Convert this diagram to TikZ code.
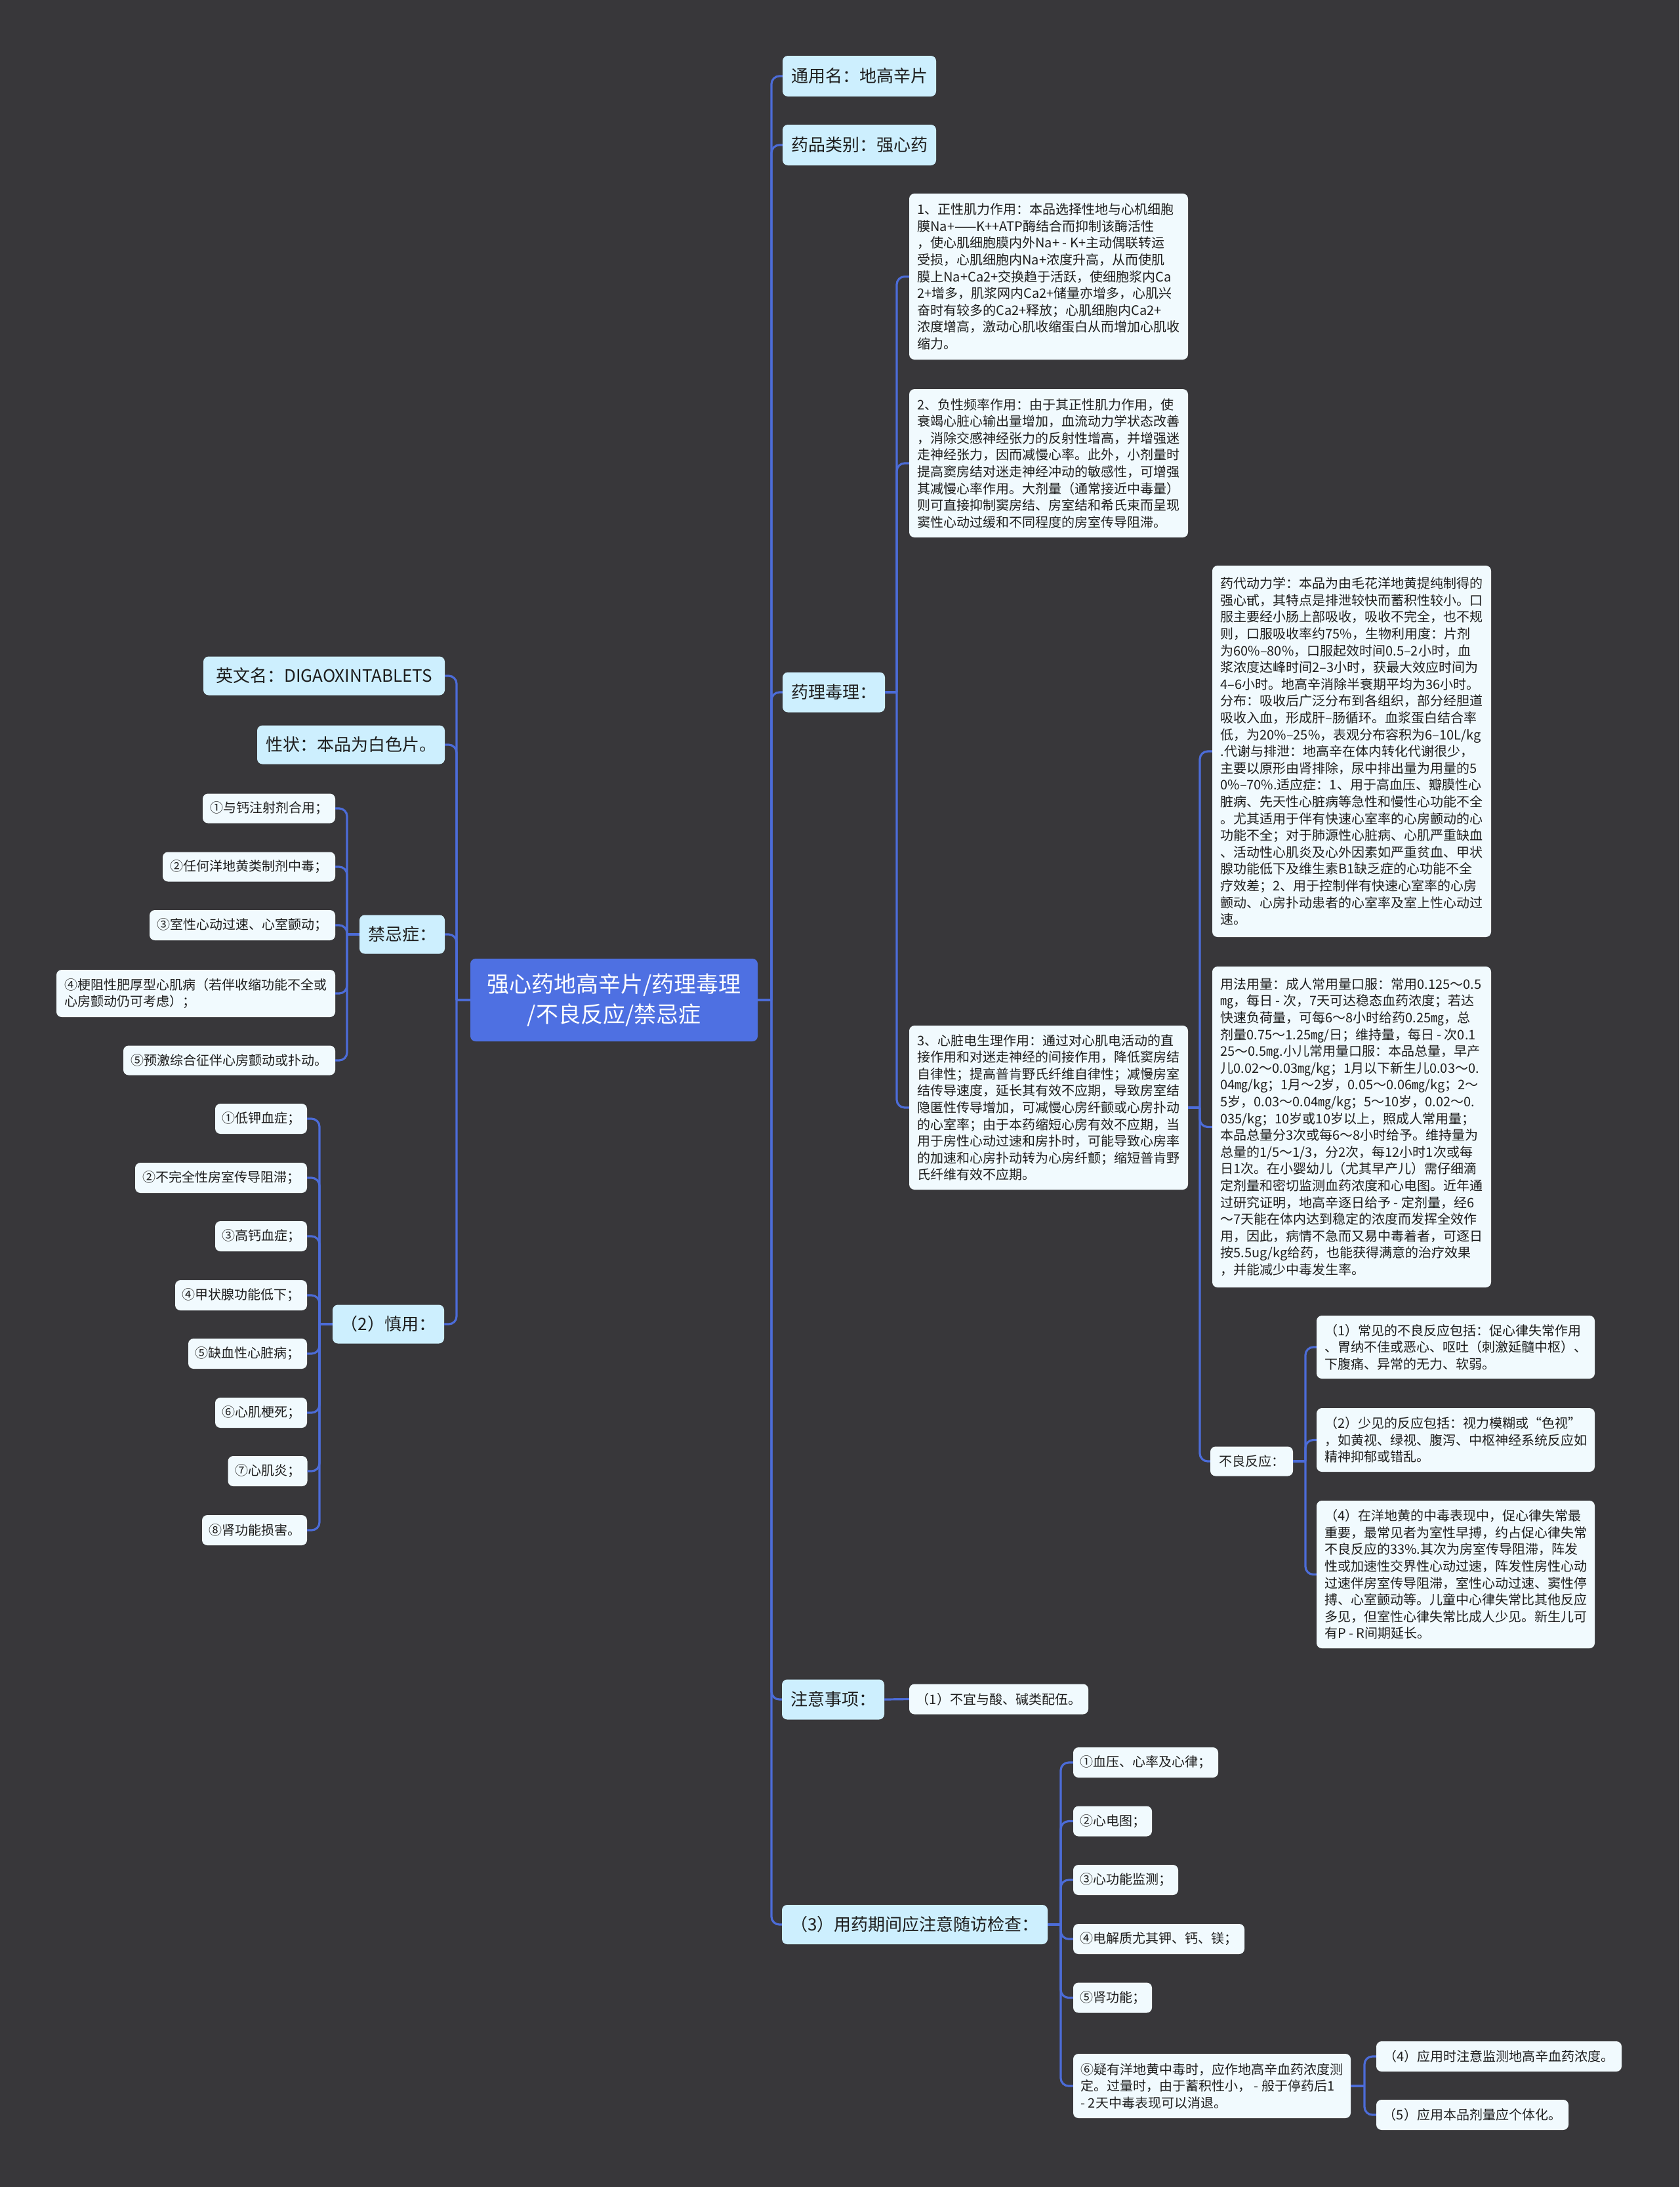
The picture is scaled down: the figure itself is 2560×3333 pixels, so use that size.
\documentclass[tikz,border=0pt]{standalone}
\usepackage{fontspec}
\newfontfamily\cjk{Noto Sans CJK SC}
\definecolor{bgc}{RGB}{56,55,58}
\definecolor{rootc}{RGB}{78,112,226}
\definecolor{lvlc}{RGB}{205,239,254}
\definecolor{leafc}{RGB}{241,250,254}
\definecolor{linec}{RGB}{76,108,216}
\definecolor{txt}{RGB}{30,30,30}
\begin{document}
\begin{tikzpicture}[x=1pt,y=-1pt,
  base/.style={rounded corners=8pt, inner xsep=0pt, inner ysep=0pt, text=txt, align=left,
    font=\cjk\fontsize{20pt}{25.6pt}\selectfont},
  root/.style={base, fill=rootc, text=white, align=center, font=\cjk\fontsize{34pt}{46pt}\selectfont},
  lvl/.style={base, fill=lvlc, align=center, font=\cjk\fontsize{26pt}{32pt}\selectfont},
  leaf/.style={base, fill=leafc},
  conn/.style={draw=linec, line width=3.2pt, rounded corners=12pt}]
\fill[bgc] (0,0) rectangle (2560,3333);

% root
\node[root, minimum width=438pt, minimum height=126pt] (root) at (936,1524) {强心药地高辛片/药理毒理\\/不良反应/禁忌症};

% right level 1
\node[lvl, minimum width=234pt, minimum height=62pt] (tym) at (1310,116) {通用名：地高辛片};
\node[lvl, minimum width=234pt, minimum height=62pt] (ypl) at (1310,221) {药品类别：强心药};
\node[lvl, minimum width=156pt, minimum height=61pt] (ylpd) at (1271,1055) {药理毒理：};
\node[lvl, minimum width=156pt, minimum height=61pt] (zysx) at (1270,2590) {注意事项：};
\node[lvl, minimum width=405pt, minimum height=60pt] (yyjc) at (1394.5,2933) {（3）用药期间应注意随访检查：};

% left level 1
\node[lvl, minimum width=368pt, minimum height=59pt] (ywm) at (494,1030) {英文名：DIGAOXINTABLETS};
\node[lvl, minimum width=286pt, minimum height=59pt] (xz) at (535,1135) {性状：本品为白色片。};
\node[lvl, minimum width=130pt, minimum height=59pt] (jjz) at (613,1424) {禁忌症：};
\node[lvl, minimum width=170pt, minimum height=59pt] (sy) at (592,2018) {（2）慎用：};

% contraindications
\node[leaf, minimum width=202pt, minimum height=45pt] (j1) at (410,1232) {①与钙注射剂合用；};
\node[leaf, minimum width=263pt, minimum height=45pt] (j2) at (379.5,1321) {②任何洋地黄类制剂中毒；};
\node[leaf, minimum width=283pt, minimum height=46pt] (j3) at (369.5,1410) {③室性心动过速、心室颤动；};
\node[leaf, minimum width=425pt, minimum height=72pt] (j4) at (298.5,1514) {④梗阻性肥厚型心肌病（若伴收缩功能不全或\\心房颤动仍可考虑）；};
\node[leaf, minimum width=323pt, minimum height=45pt] (j5) at (349.5,1616) {⑤预激综合征伴心房颤动或扑动。};

% cautions
\node[leaf, minimum width=140pt, minimum height=46pt] (s1) at (398,1705) {①低钾血症；};
\node[leaf, minimum width=262pt, minimum height=46pt] (s2) at (337,1795) {②不完全性房室传导阻滞；};
\node[leaf, minimum width=140pt, minimum height=46pt] (s3) at (398,1884) {③高钙血症；};
\node[leaf, minimum width=201pt, minimum height=46pt] (s4) at (367.5,1974) {④甲状腺功能低下；};
\node[leaf, minimum width=181pt, minimum height=46pt] (s5) at (377.5,2063) {⑤缺血性心脏病；};
\node[leaf, minimum width=140pt, minimum height=46pt] (s6) at (398,2153) {⑥心肌梗死；};
\node[leaf, minimum width=121pt, minimum height=46pt] (s7) at (408,2242) {⑦心肌炎；};
\node[leaf, minimum width=160pt, minimum height=46pt] (s8) at (388,2332) {⑧肾功能损害。};

% pharmacology notes
\node[leaf, minimum width=425pt, minimum height=253pt] (n1) at (1598.5,421.5) {1、正性肌力作用：本品选择性地与心机细胞\\
膜Na+——K++ATP酶结合而抑制该酶活性\\
，使心肌细胞膜内外Na+ - K+主动偶联转运\\
受损，心肌细胞内Na+浓度升高，从而使肌\\
膜上Na+Ca2+交换趋于活跃，使细胞浆内Ca\\
2+增多，肌浆网内Ca2+储量亦增多，心肌兴\\
奋时有较多的Ca2+释放；心肌细胞内Ca2+\\
浓度增高，激动心肌收缩蛋白从而增加心肌收\\
缩力。};
\node[leaf, minimum width=425pt, minimum height=226pt] (n2) at (1598.5,706) {2、负性频率作用：由于其正性肌力作用，使\\
衰竭心脏心输出量增加，血流动力学状态改善\\
，消除交感神经张力的反射性增高，并增强迷\\
走神经张力，因而减慢心率。此外，小剂量时\\
提高窦房结对迷走神经冲动的敏感性，可增强\\
其减慢心率作用。大剂量（通常接近中毒量）\\
则可直接抑制窦房结、房室结和希氏束而呈现\\
窦性心动过缓和不同程度的房室传导阻滞。};
\node[leaf, minimum width=425pt, minimum height=250pt] (n3) at (1598.5,1688) {3、心脏电生理作用：通过对心肌电活动的直\\
接作用和对迷走神经的间接作用，降低窦房结\\
自律性；提高普肯野氏纤维自律性；减慢房室\\
结传导速度，延长其有效不应期，导致房室结\\
隐匿性传导增加，可减慢心房纤颤或心房扑动\\
的心室率；由于本药缩短心房有效不应期，当\\
用于房性心动过速和房扑时，可能导致心房率\\
的加速和心房扑动转为心房纤颤；缩短普肯野\\
氏纤维有效不应期。};
\node[leaf, minimum width=425pt, minimum height=566pt] (n4) at (2060.5,1145) {药代动力学：本品为由毛花洋地黄提纯制得的\\
强心甙，其特点是排泄较快而蓄积性较小。口\\
服主要经小肠上部吸收，吸收不完全，也不规\\
则，口服吸收率约75\%，生物利用度：片剂\\
为60\%–80\%，口服起效时间0.5–2小时，血\\
浆浓度达峰时间2–3小时，获最大效应时间为\\
4–6小时。地高辛消除半衰期平均为36小时。\\
分布：吸收后广泛分布到各组织，部分经胆道\\
吸收入血，形成肝–肠循环。血浆蛋白结合率\\
低，为20\%–25\%，表观分布容积为6–10L/kg\\
.代谢与排泄：地高辛在体内转化代谢很少，\\
主要以原形由肾排除，尿中排出量为用量的5\\
0\%–70\%.适应症：1、用于高血压、瓣膜性心\\
脏病、先天性心脏病等急性和慢性心功能不全\\
。尤其适用于伴有快速心室率的心房颤动的心\\
功能不全；对于肺源性心脏病、心肌严重缺血\\
、活动性心肌炎及心外因素如严重贫血、甲状\\
腺功能低下及维生素B1缺乏症的心功能不全\\
疗效差；2、用于控制伴有快速心室率的心房\\
颤动、心房扑动患者的心室率及室上性心动过\\
速。};
\node[leaf, minimum width=425pt, minimum height=489pt] (n5) at (2060.5,1717.5) {用法用量：成人常用量口服：常用0.125～0.5\\
㎎，每日 - 次，7天可达稳态血药浓度；若达\\
快速负荷量，可每6～8小时给药0.25㎎，总\\
剂量0.75～1.25㎎/日；维持量，每日 - 次0.1\\
25～0.5㎎.小儿常用量口服：本品总量，早产\\
儿0.02～0.03㎎/kg；1月以下新生儿0.03～0.\\
04㎎/kg；1月～2岁，0.05～0.06㎎/kg；2～\\
5岁，0.03～0.04㎎/kg；5～10岁，0.02～0.\\
035/kg；10岁或10岁以上，照成人常用量；\\
本品总量分3次或每6～8小时给予。维持量为\\
总量的1/5～1/3，分2次，每12小时1次或每\\
日1次。在小婴幼儿（尤其早产儿）需仔细滴\\
定剂量和密切监测血药浓度和心电图。近年通\\
过研究证明，地高辛逐日给予 - 定剂量，经6\\
～7天能在体内达到稳定的浓度而发挥全效作\\
用，因此，病情不急而又易中毒着者，可逐日\\
按5.5ug/kg给药，也能获得满意的治疗效果\\
，并能减少中毒发生率。};
\node[leaf, minimum width=126pt, minimum height=45pt, align=center] (adv) at (1908,2227) {不良反应：};
\node[leaf, minimum width=424pt, minimum height=96pt] (a1) at (2219,2053) {（1）常见的不良反应包括：促心律失常作用\\
、胃纳不佳或恶心、呕吐（刺激延髓中枢）、\\
下腹痛、异常的无力、软弱。};
\node[leaf, minimum width=424pt, minimum height=97pt] (a2) at (2219,2194.5) {（2）少见的反应包括：视力模糊或“色视”\\
，如黄视、绿视、腹泻、中枢神经系统反应如\\
精神抑郁或错乱。};
\node[leaf, minimum width=424pt, minimum height=225pt] (a4) at (2219,2399.5) {（4）在洋地黄的中毒表现中，促心律失常最\\
重要，最常见者为室性早搏，约占促心律失常\\
不良反应的33\%.其次为房室传导阻滞，阵发\\
性或加速性交界性心动过速，阵发性房性心动\\
过速伴房室传导阻滞，室性心动过速、窦性停\\
搏、心室颤动等。儿童中心律失常比其他反应\\
多见，但室性心律失常比成人少见。新生儿可\\
有P - R间期延长。};

% notes / checks
\node[leaf, minimum width=273pt, minimum height=46pt, align=center] (zy1) at (1522.5,2589.5) {（1）不宜与酸、碱类配伍。};
\node[leaf, minimum width=221pt, minimum height=46pt] (c1) at (1746.5,2686) {①血压、心率及心律；};
\node[leaf, minimum width=120pt, minimum height=46pt] (c2) at (1696,2775.5) {②心电图；};
\node[leaf, minimum width=160pt, minimum height=46pt] (c3) at (1716,2865) {③心功能监测；};
\node[leaf, minimum width=261pt, minimum height=46pt] (c4) at (1766.5,2955) {④电解质尤其钾、钙、镁；};
\node[leaf, minimum width=120pt, minimum height=46pt] (c5) at (1696,3044.5) {⑤肾功能；};
\node[leaf, minimum width=423pt, minimum height=98pt] (c6) at (1847.5,3179) {⑥疑有洋地黄中毒时，应作地高辛血药浓度测\\
定。过量时，由于蓄积性小， - 般于停药后1\\
 - 2天中毒表现可以消退。};
\node[leaf, minimum width=374pt, minimum height=46pt] (d4) at (2285,3134) {（4）应用时注意监测地高辛血药浓度。};
\node[leaf, minimum width=293pt, minimum height=46pt] (d5) at (2244.5,3223) {（5）应用本品剂量应个体化。};

% bus points
\coordinate (bR) at (1176,1524);
\coordinate (bL) at (696,1524);
\coordinate (bP) at (1367,1055);
\coordinate (bN) at (1829,1688);
\coordinate (bA) at (1990,2227);
\coordinate (bJ) at (529,1424);
\coordinate (bS) at (487,2018);
\coordinate (bC) at (1617,2933);
\coordinate (bX) at (2080,3179);

% connectors
\draw[conn] (root.east) -- (bR);
\foreach \c in {tym,ypl,ylpd,zysx,yyjc} \draw[conn] (bR) |- (\c.west);
\draw[conn] (root.west) -- (bL);
\foreach \c in {ywm,xz,jjz,sy} \draw[conn] (bL) |- (\c.east);
\draw[conn] (ylpd.east) -- (bP);
\foreach \c in {n1,n2,n3} \draw[conn] (bP) |- (\c.west);
\draw[conn] (n3.east) -- (bN);
\foreach \c in {n4,n5,adv} \draw[conn] (bN) |- (\c.west);
\draw[conn] (adv.east) -- (bA);
\foreach \c in {a1,a2,a4} \draw[conn] (bA) |- (\c.west);
\draw[conn] (jjz.west) -- (bJ);
\foreach \c in {j1,j2,j3,j4,j5} \draw[conn] (bJ) |- (\c.east);
\draw[conn] (sy.west) -- (bS);
\foreach \c in {s1,s2,s3,s4,s5,s6,s7,s8} \draw[conn] (bS) |- (\c.east);
\draw[conn] (zysx.east) -- (zy1.west);
\draw[conn] (yyjc.east) -- (bC);
\foreach \c in {c1,c2,c3,c4,c5,c6} \draw[conn] (bC) |- (\c.west);
\draw[conn] (c6.east) -- (bX);
\foreach \c in {d4,d5} \draw[conn] (bX) |- (\c.west);
\end{tikzpicture}
\end{document}
